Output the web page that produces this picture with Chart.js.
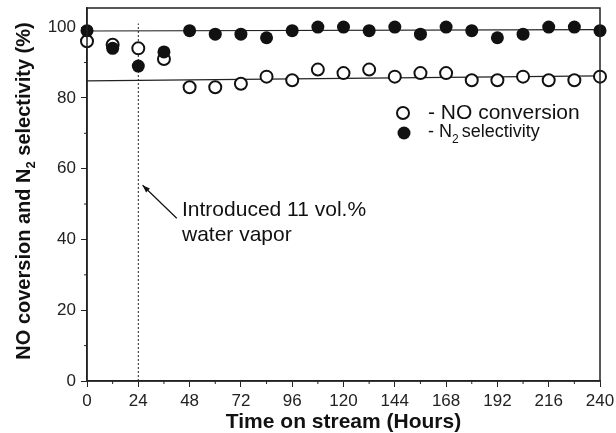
<!DOCTYPE html>
<html lang="en">
<head>
<meta charset="UTF-8">
<title>NO conversion and N2 selectivity</title>
<script src="https://cdn.jsdelivr.net/npm/chart.js"></script>
<style>
  html, body { margin: 0; padding: 0; background: #fff; }
  .wrap { width: 616px; height: 433px; }
</style>
</head>
<body>
<div class="wrap"><canvas id="c" width="616" height="433"></canvas></div>
<script>
// data
const hours = [0, 12, 24, 36, 48, 60, 72, 84, 96, 108, 120, 132, 144, 156, 168, 180, 192, 204, 216, 228, 240];
const noConversion = [96, 95, 94, 91, 83, 83, 84, 86, 85, 88, 87, 88, 86, 87, 87, 85, 85, 86, 85, 85, 86];
const n2Selectivity = [99, 94, 89, 93, 99, 98, 98, 97, 99, 100, 100, 99, 100, 98, 100, 99, 97, 98, 100, 100, 99];
// fitted trend lines (end points)
const fitHours = [0, 240];
const noFit = [84.8, 86.2];
const n2Fit = [98.9, 99.3];
// moment water vapour was introduced
const waterHours = [24, 24];
const waterLine = [0, 101];
const xTicks = [0, 24, 48, 72, 96, 120, 144, 168, 192, 216, 240];
const yTicks = [0, 20, 40, 60, 80, 100];

const FONT = '"Liberation Sans", Arial, sans-serif';
const pts = (xs, ys) => xs.map((x, i) => ({ x: x, y: ys[i] }));

// box, minor ticks, legend, y title and annotation
const extras = {
  id: 'extras',
  afterDraw(chart) {
    const ctx = chart.ctx;
    const a = chart.chartArea;
    const xs = chart.scales.x, ys = chart.scales.y;
    ctx.save();
    ctx.strokeStyle = '#222';
    ctx.lineWidth = 1.5;
    ctx.strokeRect(a.left, a.top, a.right - a.left, a.bottom - a.top);

    // minor ticks
    ctx.lineWidth = 1;
    ctx.beginPath();
    for (let h = 12; h < 240; h += 24) {
      const px = xs.getPixelForValue(h);
      ctx.moveTo(px, a.bottom); ctx.lineTo(px, a.bottom + 3);
    }
    for (let v = 10; v < 100; v += 20) {
      const py = ys.getPixelForValue(v);
      ctx.moveTo(a.left, py); ctx.lineTo(a.left - 3, py);
    }
    ctx.stroke();

    // legend
    ctx.textBaseline = 'middle';
    ctx.textAlign = 'left';
    ctx.lineWidth = 2;
    ctx.strokeStyle = '#111';
    ctx.beginPath(); ctx.arc(403, 113, 6, 0, Math.PI * 2);
    ctx.fillStyle = '#fff'; ctx.fill(); ctx.stroke();
    ctx.beginPath(); ctx.arc(404, 133, 6.5, 0, Math.PI * 2);
    ctx.fillStyle = '#111'; ctx.fill();
    ctx.font = '21px ' + FONT;
    ctx.fillText('- NO conversion', 428, 113);
    ctx.font = '18px ' + FONT;
    ctx.fillText('- N', 428, 132);
    let w = ctx.measureText('- N').width;
    ctx.font = '12px ' + FONT;
    ctx.fillText('2', 428 + w, 140);
    w += ctx.measureText('2').width + 3;
    ctx.font = '18px ' + FONT;
    ctx.fillText('selectivity', 428 + w, 132);

    // annotation
    ctx.font = '21px ' + FONT;
    ctx.fillText('Introduced 11 vol.%', 182, 210);
    ctx.fillText('water vapor', 182, 235);
    const x0 = xs.getPixelForValue(42), y0 = ys.getPixelForValue(46);
    const x1 = xs.getPixelForValue(26), y1 = ys.getPixelForValue(55.3);
    ctx.lineWidth = 1.2;
    ctx.beginPath(); ctx.moveTo(x0, y0); ctx.lineTo(x1, y1); ctx.stroke();
    const ang = Math.atan2(y1 - y0, x1 - x0);
    ctx.beginPath();
    ctx.moveTo(x1, y1);
    ctx.lineTo(x1 - 8 * Math.cos(ang - 0.35), y1 - 8 * Math.sin(ang - 0.35));
    ctx.lineTo(x1 - 8 * Math.cos(ang + 0.35), y1 - 8 * Math.sin(ang + 0.35));
    ctx.closePath(); ctx.fill();

    // y axis title with subscript
    ctx.translate(24, 191);
    ctx.rotate(-Math.PI / 2);
    const parts = [
      ['NO coversion and N', 'bold 20px ', 0],
      ['2', 'bold 13px ', 7],
      [' selectivity (%)', 'bold 20px ', 0]
    ];
    let total = 0;
    parts.forEach(p => { ctx.font = p[1] + FONT; total += ctx.measureText(p[0]).width; });
    let cx = -total / 2;
    parts.forEach(p => {
      ctx.font = p[1] + FONT;
      ctx.fillText(p[0], cx, p[2]);
      cx += ctx.measureText(p[0]).width;
    });
    ctx.restore();
  }
};

new Chart(document.getElementById('c'), {
  type: 'scatter',
  data: {
    datasets: [
      {
        label: 'N2 selectivity',
        data: pts(hours, n2Selectivity),
        clip: false,
        pointRadius: 6.5,
        pointBackgroundColor: '#111',
        pointBorderColor: '#111',
        pointBorderWidth: 0
      },
      {
        label: 'NO conversion',
        data: pts(hours, noConversion),
        clip: false,
        pointRadius: 6,
        pointBackgroundColor: '#fff',
        pointBorderColor: '#111',
        pointBorderWidth: 2
      },
      {
        label: 'N2 fit',
        data: pts(fitHours, n2Fit),
        showLine: true, pointRadius: 0,
        borderColor: '#222', borderWidth: 1.2
      },
      {
        label: 'NO fit',
        data: pts(fitHours, noFit),
        showLine: true, pointRadius: 0,
        borderColor: '#222', borderWidth: 1.2
      },
      {
        label: 'water vapor',
        data: pts(waterHours, waterLine),
        showLine: true, pointRadius: 0,
        borderColor: '#222', borderWidth: 1, borderDash: [2, 2]
      }
    ]
  },
  options: {
    responsive: false,
    animation: false,
    layout: { padding: { top: 8, right: 16, left: 0, bottom: 0 } },
    plugins: { legend: { display: false }, tooltip: { enabled: false } },
    scales: {
      x: {
        type: 'linear', min: 0, max: 240,
        afterBuildTicks: s => { s.ticks = xTicks.map(v => ({ value: v })); },
        afterFit: s => { s.height = 52; s.paddingLeft = 0; s.paddingRight = 0; },
        ticks: { color: '#222', font: { family: FONT, size: 17 }, padding: 4, maxRotation: 0 },
        grid: { drawOnChartArea: false, tickLength: 6, color: '#222' },
        border: { color: '#222', width: 1.5 },
        title: { display: true, text: 'Time on stream (Hours)', color: '#111', font: { family: FONT, size: 21, weight: 'bold' }, padding: { top: 0, bottom: -2 } }
      },
      y: {
        min: 0, max: 105.4,
        afterBuildTicks: s => { s.ticks = yTicks.map(v => ({ value: v })); },
        afterFit: s => { s.width = 87; s.paddingTop = 0; s.paddingBottom = 0; },
        ticks: { color: '#222', font: { family: FONT, size: 17 }, padding: 5 },
        grid: { drawOnChartArea: false, tickLength: 6, color: '#222' },
        border: { color: '#222', width: 1.5 }
      }
    }
  },
  plugins: [extras]
});
</script>
</body>
</html>
